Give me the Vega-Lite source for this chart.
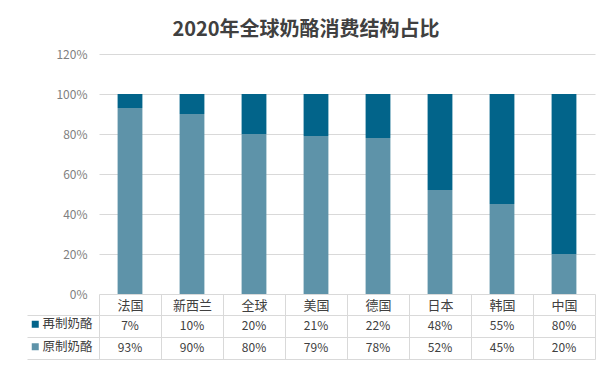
{
  "$schema": "https://vega.github.io/schema/vega-lite/v6.json",
  "background": "white",
  "padding": {"left": 26, "top": 20, "right": 10, "bottom": 5},
  "config": {"font": "Noto Sans CJK SC", "view": {"stroke": null}},
  "title": {"text": "2020年全球奶酪消费结构占比", "fontSize": 20, "fontWeight": "bold", "color": "#404040", "anchor": "middle", "offset": 8, "dx": -5},
  "datasets": {
    "d": [
      {"country": "法国", "type": "再制奶酪", "value": 0.07},
      {"country": "新西兰", "type": "再制奶酪", "value": 0.10},
      {"country": "全球", "type": "再制奶酪", "value": 0.20},
      {"country": "美国", "type": "再制奶酪", "value": 0.21},
      {"country": "德国", "type": "再制奶酪", "value": 0.22},
      {"country": "日本", "type": "再制奶酪", "value": 0.48},
      {"country": "韩国", "type": "再制奶酪", "value": 0.55},
      {"country": "中国", "type": "再制奶酪", "value": 0.80},
      {"country": "法国", "type": "原制奶酪", "value": 0.93},
      {"country": "新西兰", "type": "原制奶酪", "value": 0.90},
      {"country": "全球", "type": "原制奶酪", "value": 0.80},
      {"country": "美国", "type": "原制奶酪", "value": 0.79},
      {"country": "德国", "type": "原制奶酪", "value": 0.78},
      {"country": "日本", "type": "原制奶酪", "value": 0.52},
      {"country": "韩国", "type": "原制奶酪", "value": 0.45},
      {"country": "中国", "type": "原制奶酪", "value": 0.20}
    ]
  },
  "spacing": 21,
  "bounds": "flush",
  "resolve": {"scale": {"x": "independent", "y": "independent"}},
  "vconcat": [
    {
      "width": 496,
      "height": 240,
      "data": {"name": "d"},
      "mark": {"type": "bar"},
      "encoding": {
        "x": {"field": "country", "type": "nominal", "sort": ["法国", "新西兰", "全球", "美国", "德国", "日本", "韩国", "中国"], "scale": {"paddingInner": 0.6, "paddingOuter": 0.3}, "axis": null},
        "y": {"field": "value", "type": "quantitative", "stack": "zero", "scale": {"domain": [0, 1.2], "nice": false},
          "axis": {"values": [0, 0.2, 0.4, 0.6, 0.8, 1, 1.2], "format": ".0%", "title": null, "domain": false, "ticks": false, "labelColor": "#808080", "labelFontSize": 12, "labelPadding": 12, "gridColor": "#d9d9d9"}},
        "color": {"field": "type", "type": "nominal", "scale": {"domain": ["再制奶酪", "原制奶酪"], "range": ["#02648A", "#5E93A9"]},
          "legend": {"orient": "none", "legendX": -70, "legendY": 264, "title": null, "symbolType": "square", "symbolSize": 49, "symbolStrokeWidth": 0, "labelFontSize": 12.5, "labelColor": "#404040", "rowPadding": 9.5, "labelOffset": 1, "padding": 0}},
        "order": {"field": "type", "sort": "descending"}
      }
    },
    {
      "width": 496,
      "height": 44,
      "data": {"name": "d"},
      "encoding": {
        "x": {"field": "country", "type": "nominal", "sort": ["法国", "新西兰", "全球", "美国", "德国", "日本", "韩国", "中国"], "scale": {"paddingInner": 0, "paddingOuter": 0},
          "axis": {"orient": "top", "title": null, "domain": false, "tickBand": "extent", "tickSize": 21, "tickColor": "#d9d9d9", "labelPadding": -18, "labelFontSize": 13, "labelColor": "#404040", "labelAngle": 0, "grid": true, "gridColor": "#d9d9d9"}},
        "y": {"field": "type", "type": "nominal", "scale": {"domain": ["再制奶酪", "原制奶酪"], "paddingInner": 0, "paddingOuter": 0}}
      },
      "layer": [
        {
          "mark": {"type": "text", "fontSize": 12, "color": "#404040"},
          "encoding": {
            "y": {"field": "type", "type": "nominal", "axis": {"orient": "left", "title": null, "labels": false, "domain": false, "tickBand": "extent", "tickSize": 72, "tickColor": "#d9d9d9", "grid": true, "gridColor": "#d9d9d9"}},
            "text": {"field": "value", "type": "quantitative", "format": ".0%"}
          }
        },
        {
          "mark": {"type": "text", "opacity": 0},
          "encoding": {
            "y": {"field": "type", "type": "nominal", "axis": {"orient": "left", "title": null, "labels": false, "ticks": false, "grid": false, "domain": true, "domainColor": "#d9d9d9", "offset": 0}},
            "text": {"value": ""}
          }
        }
      ],
      "resolve": {"axis": {"y": "independent"}}
    }
  ]
}
